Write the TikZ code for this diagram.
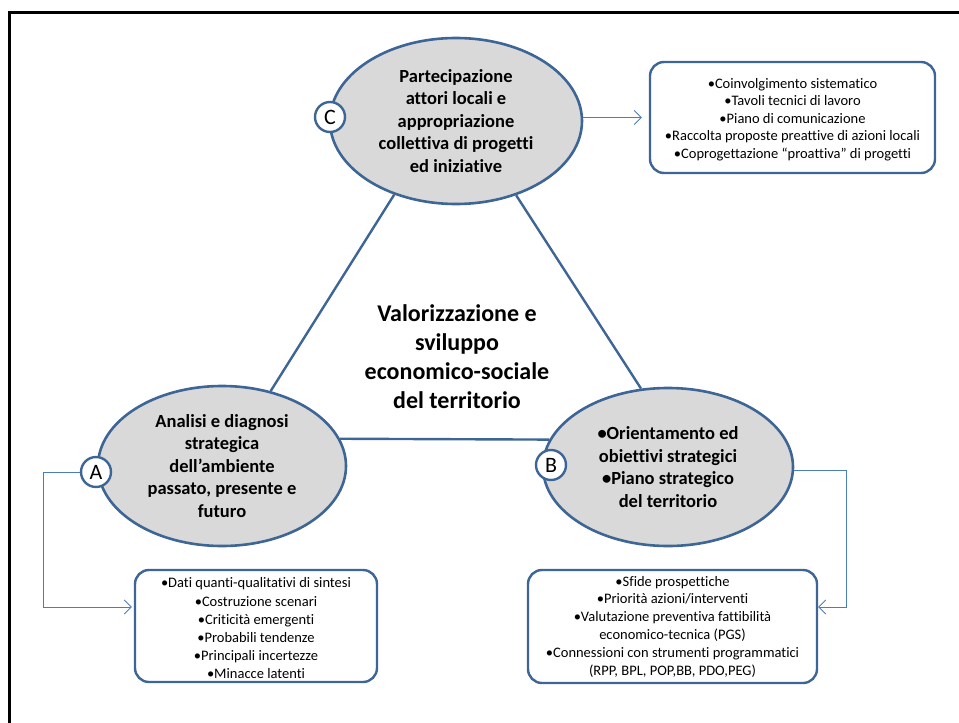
\documentclass[tikz,border=0pt]{standalone}
\usepackage{fontspec}
\setmainfont{Carlito}[Ligatures=NoCommon]
\usetikzlibrary{shapes.geometric,arrows.meta}
\definecolor{edgeblue}{HTML}{3D6596}
\definecolor{linkblue}{HTML}{4A7EBB}
\definecolor{bubblegray}{HTML}{D9D9D9}
\tikzset{
  bubble/.style={ellipse, draw=edgeblue, line width=2.6pt, fill=bubblegray,
    inner sep=0pt, align=center, font=\fontsize{18.5}{22.5}\selectfont\bfseries},
  tag/.style={circle, draw=edgeblue, line width=2.4pt, fill=white,
    minimum size=30pt, inner sep=0pt, font=\fontsize{22}{24}\selectfont},
  listbox/.style={rectangle, rounded corners=14pt, draw=edgeblue, line width=2.4pt,
    fill=white, inner sep=0pt, align=center},
  tie/.style={draw=edgeblue, line width=2.4pt},
  link/.style={draw=linkblue, line width=0.9pt, -{Straight Barb[length=7pt,width=14pt]}},
}
\begin{document}
\begin{tikzpicture}[x=1pt,y=-1pt]
\useasboundingbox (0,0) rectangle (959,723);
% page frame
\draw[line width=3pt] (959,12) -- (9,12) -- (9,723);

% the three bubbles
\node[bubble, minimum width=252pt, minimum height=166pt] (C) at (456,121)
  {Partecipazione\\attori locali e\\appropriazione\\collettiva di progetti\\ed iniziative};
\node[bubble, minimum width=248pt, minimum height=160pt] (A) at (222,466)
  {Analisi e diagnosi\\strategica\\dell’ambiente\\passato, presente e\\futuro};
\node[bubble, minimum width=250pt, minimum height=158pt] (B) at (668,467)
  {•Orientamento ed\\obiettivi strategici\\•Piano strategico\\del territorio};

% central theme
\node[align=center, font=\fontsize{24}{29}\selectfont\bfseries] (core) at (457,357)
  {Valorizzazione e\\sviluppo\\economico-sociale\\del territorio};

% triangle joining the bubbles
\draw[tie] (C.230) -- (A.57);
\draw[tie] (C.-51) -- (B.109);
\draw[tie] (A.13) -- (B.167);

% letter tags
\node[tag] (tC) at (330,117) {C};
\node[tag] (tA) at (96,472) {A};
\node[tag] (tB) at (551,465) {B};

% detail boxes
\node[listbox, minimum width=285pt, minimum height=111pt,
  font=\fontsize{14.5}{17.5}\selectfont] (boxC) at (792.5,117.5)
  {\rule{0pt}{14pt}•Coinvolgimento sistematico\\•Tavoli tecnici di lavoro\\•Piano di comunicazione\\•Raccolta proposte preattive di azioni locali\\•Coprogettazione “proattiva” di progetti};
\node[listbox, minimum width=242pt, minimum height=112pt,
  font=\fontsize{14.5}{18.2}\selectfont] (boxA) at (256,626)
  {\rule{0pt}{15pt}•Dati quanti-qualitativi di sintesi\\•Costruzione scenari\\•Criticità emergenti\\•Probabili tendenze\\•Principali incertezze\\•Minacce latenti};
\node[listbox, minimum width=289pt, minimum height=113pt,
  font=\fontsize{14.5}{17.8}\selectfont] (boxB) at (672.5,626.5)
  {•Sfide prospettiche\\•Priorità azioni/interventi\\•Valutazione preventiva fattibilità\\economico-tecnica (PGS)\\•Connessioni con strumenti programmatici\\(RPP, BPL, POP,BB, PDO,PEG)};

% links to the detail boxes
\coordinate (aTop) at (43,472);
\coordinate (aLow) at (43,607);
\coordinate (bTop) at (846,470);
\coordinate (bLow) at (846,607);
\draw[link, shorten >=7pt] (C.east |- boxC.west) -- (boxC.west);
\draw[link, shorten >=2pt] (tA.west) -- (aTop) -- (aLow) -- (aLow -| boxA.west);
\draw[link] (B.east |- bTop) -- (bTop) -- (bLow) -- (bLow -| boxB.east);
\end{tikzpicture}
\end{document}
